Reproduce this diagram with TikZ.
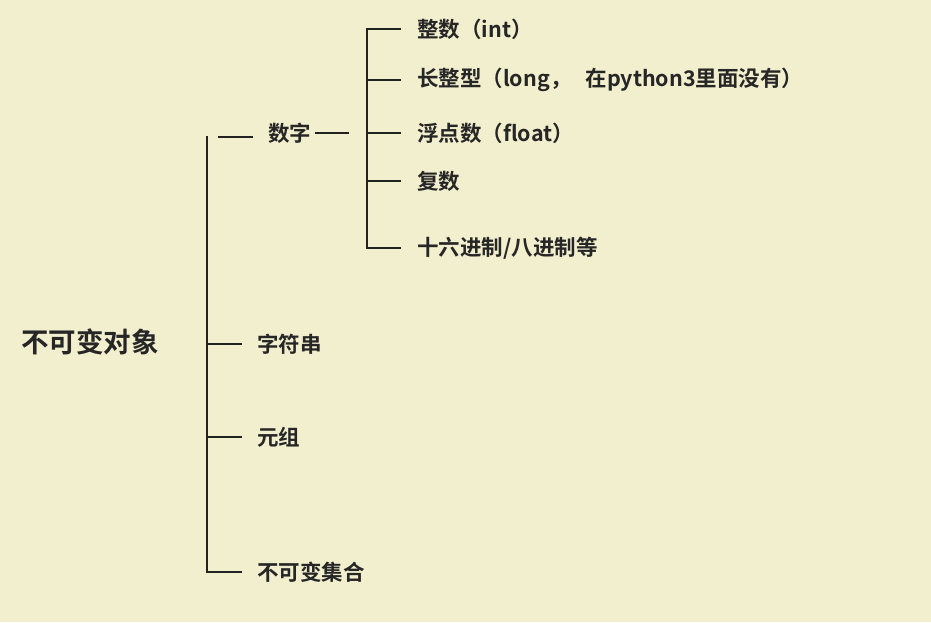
\documentclass[tikz,border=0pt]{standalone}
\usepackage{fontspec}
\newfontfamily\cjk{Noto Sans CJK SC Bold}
\definecolor{bgc}{RGB}{242,239,206}
\definecolor{txt}{RGB}{38,38,38}
\definecolor{ln}{RGB}{34,34,34}
\begin{document}
\begin{tikzpicture}[x=1pt,y=-1pt,
  lbl/.style={anchor=west,inner sep=0pt,text=txt,font=\cjk\fontsize{21.5}{24}\selectfont},
  big/.style={anchor=west,inner sep=0pt,text=txt,font=\cjk\fontsize{27.5}{30}\selectfont},
  wire/.style={draw=ln,line width=2pt}]
\fill[bgc] (0,0) rectangle (931,622);
\useasboundingbox (0,0) rectangle (931,622);
% nodes
\node[big] (root) at (21,342) {不可变对象};
\node[lbl] (num) at (268,133) {数字};
\node[lbl] (str) at (257,344) {字符串};
\node[lbl] (tup) at (257,437) {元组};
\node[lbl] (fset) at (257,572) {不可变集合};
\node[lbl] (int) at (417,29) {整数（int）};
\node[lbl] (long) at (417,80) {长整型（long，\hspace{14pt}在python3里面没有）};
\node[lbl] (flt) at (417,133) {浮点数（float）};
\node[lbl] (cpx) at (417,181) {复数};
\node[lbl] (hex) at (417,248) {十六进制/八进制等};
% coordinates
\coordinate (vt) at (207,136);
\coordinate (vb) at (207,572);
\coordinate (n1) at (218,137);
\coordinate (n2) at (253,137);
\coordinate (n3) at (315,133);
\coordinate (n4) at (349,133);
\coordinate (wt) at (367,29);
\coordinate (wb) at (367,248);
% main bracket
\draw[wire] (vt) -- (vb) -- ([xshift=-15pt]fset.west);
\draw[wire] (vt |- str) -- ([xshift=-15pt]str.west);
\draw[wire] (vt |- tup) -- ([xshift=-15pt]tup.west);
\draw[wire] (n1) -- (n2);
\draw[wire] (n3) -- (n4);
% number bracket
\draw[wire] ([xshift=-16pt]int.west) -- (wt) -- (wb) -- ([xshift=-16pt]hex.west);
\draw[wire] (wt |- long) -- ([xshift=-16pt]long.west);
\draw[wire] (wt |- flt) -- ([xshift=-16pt]flt.west);
\draw[wire] (wt |- cpx) -- ([xshift=-16pt]cpx.west);
\draw[wire] (wt |- num) -- ++(23,0);
\end{tikzpicture}
\end{document}
